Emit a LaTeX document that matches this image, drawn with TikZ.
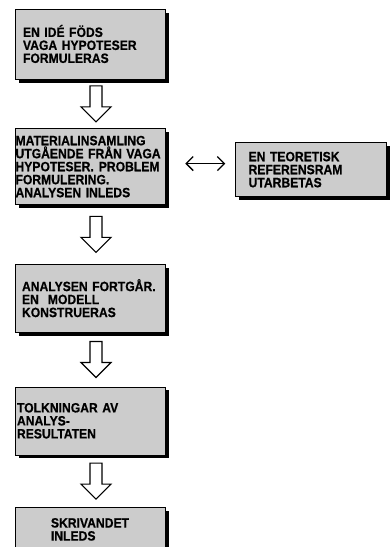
\documentclass[tikz,border=0pt]{standalone}
\usepackage{fontspec}
\newfontfamily\boxfont[FakeStretch=0.9,BoldFont={Liberation Sans Bold},BoldFeatures={FakeBold=0.6}]{Liberation Sans}
\definecolor{stipple}{RGB}{204,204,204}
\usetikzlibrary{arrows.meta, positioning, calc, shadows}
\hyphenpenalty=10000

% hollow block arrow centred in the gap between two boxes
\newcommand{\hollowdown}[2]{%
  \path ($(#1.south)!0.5!(#2.north)+(6,0)$) coordinate (m);
  \draw[blockarrow] ($(m)+(-6,18)$) -- ++(12,0) -- ++(0,-21) -- ++(9,0)
    -- ($(m)+(0,-18)$) -- ++(-15,15) -- ++(9,0) -- cycle;}

\begin{document}
\begin{tikzpicture}[x=1pt, y=1pt,
            stage/.style={draw, line width=0.6pt, fill=stipple, align=left,
                      font=\boxfont\bfseries\fontsize{13.5}{13}\selectfont,
                      minimum width=150pt, inner ysep=0pt,
                      drop shadow={shadow xshift=3.5pt, shadow yshift=-3.5pt, fill=black, opacity=1}},
            blockarrow/.style={draw, line width=1.1pt, fill=white, line join=miter},
            dbl/.style={{Straight Barb[length=7pt,width=14pt]}-{Straight Barb[length=7pt,width=14pt]}, line width=1.3pt}
          ]
          \useasboundingbox (0,0) rectangle (389,-547);
          \node[stage, inner xsep=8pt, text width=134pt, minimum height=70pt] (b1) at (90,-44)
            {EN IDÉ FÖDS\\VAGA HYPOTESER\\FORMULERAS};
          \node[stage, inner xsep=0.5pt, text width=149pt, minimum height=76pt] (b2) [below=49pt of b1]
            {MATERIALINSAMLING\\UTGÅENDE FRÅN VAGA\\HYPOTESER.\hspace{5pt}PROBLEM\\FORMULERING.\\ANALYSEN INLEDS};
          \node[stage, inner xsep=13pt, text width=125pt, minimum height=54pt] (b3) [right=70pt of b2, yshift=-3pt]
            {EN TEORETISK\\REFERENSRAM\\UTARBETAS};
          \node[stage, inner xsep=7pt, text width=136pt, minimum height=68pt] (b4) [below=59pt of b2]
            {ANALYSEN FORTGÅR.\\EN\ \ MODELL\\KONSTRUERAS};
          \node[stage, inner xsep=2pt, text width=146pt, minimum height=68pt] (b5) [below=54pt of b4]
            {TOLKNINGAR AV\\ANALYS-\\RESULTATEN};
          \node[stage, minimum height=44pt] (b6) [below=52pt of b5]
            {SKRIVANDET\\INLEDS};
          \hollowdown{b1}{b2}
          \hollowdown{b2}{b4}
          \hollowdown{b4}{b5}
          \hollowdown{b5}{b6}
          \draw[dbl, shorten <=20pt, shorten >=10pt] ([yshift=3pt]b2.east) -- ([yshift=6pt]b3.west);
        \end{tikzpicture}
\end{document}
